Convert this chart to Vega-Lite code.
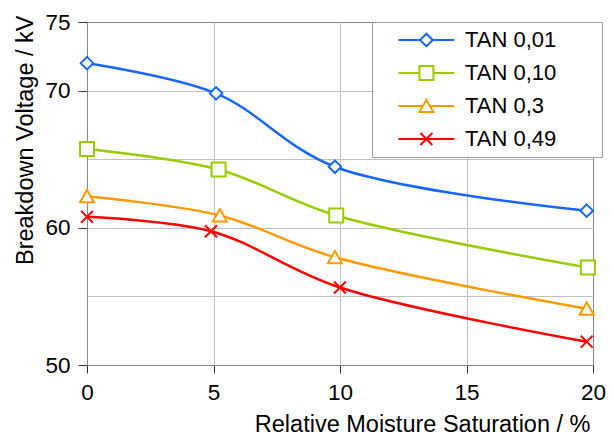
{
  "$schema": "https://vega.github.io/schema/vega-lite/v6.json",
  "width": 506,
  "height": 343,
  "autosize": {"type": "none"},
  "padding": {"left": 87, "top": 22, "right": 20, "bottom": 70},
  "config": {
    "font": "Liberation Sans",
    "view": {"stroke": "#878787", "strokeWidth": 1},
    "legend": {
      "orient": "none",
      "legendX": 285,
      "legendY": 0,
      "padding": 7,
      "rowPadding": 11,
      "labelFontSize": 22,
      "labelFont": "Liberation Sans",
      "labelColor": "black",
      "labelOffset": 64,
      "symbolSize": 196,
      "symbolStrokeWidth": 2,
      "symbolFillColor": "white",
      "symbolOpacity": 1,
      "strokeColor": "#a0a0a0",
      "fillColor": "white"
    }
  },
  "data": {
    "values": [
      {"series": "TAN 0,01", "moisture": 0, "voltage": 72.0},
      {"series": "TAN 0,01", "moisture": 5.1, "voltage": 69.8},
      {"series": "TAN 0,01", "moisture": 9.8, "voltage": 64.45},
      {"series": "TAN 0,01", "moisture": 19.75, "voltage": 61.25},
      {"series": "TAN 0,10", "moisture": 0, "voltage": 65.75},
      {"series": "TAN 0,10", "moisture": 5.2, "voltage": 64.25},
      {"series": "TAN 0,10", "moisture": 9.85, "voltage": 60.9},
      {"series": "TAN 0,10", "moisture": 19.8, "voltage": 57.1},
      {"series": "TAN 0,3", "moisture": 0, "voltage": 62.3},
      {"series": "TAN 0,3", "moisture": 5.25, "voltage": 60.9},
      {"series": "TAN 0,3", "moisture": 9.8, "voltage": 57.85},
      {"series": "TAN 0,3", "moisture": 19.75, "voltage": 54.1},
      {"series": "TAN 0,49", "moisture": 0, "voltage": 60.8},
      {"series": "TAN 0,49", "moisture": 4.9, "voltage": 59.75},
      {"series": "TAN 0,49", "moisture": 10, "voltage": 55.65},
      {"series": "TAN 0,49", "moisture": 19.75, "voltage": 51.7}
    ]
  },
  "encoding": {
    "x": {
      "field": "moisture",
      "type": "quantitative",
      "scale": {"domain": [0, 20], "nice": false},
      "axis": {
        "values": [0, 5, 10, 15, 20],
        "title": "Relative Moisture Saturation / %",
        "grid": true,
        "gridColor": "#c0c0c0",
        "gridOpacity": {"condition": {"test": "datum.value == 0 || datum.value == 20", "value": 0}, "value": 1},
        "domainColor": "#878787",
        "tickColor": "#333333",
        "tickSize": 8,
        "labelFontSize": 22.5,
        "labelPadding": 8,
        "labelColor": "black",
        "labelFlush": false,
        "titleFontSize": 23.5,
        "titleFontWeight": "normal",
        "titleColor": "black",
        "titleAnchor": "end",
        "titleBaseline": "alphabetic",
        "titleX": 503,
        "titleY": 66
      }
    },
    "y": {
      "field": "voltage",
      "type": "quantitative",
      "scale": {"domain": [50, 75], "nice": false, "zero": false},
      "axis": {
        "values": [50, 55, 60, 65, 70, 75],
        "labelExpr": "datum.value == 55 || datum.value == 65 ? '' : datum.label",
        "title": "Breakdown Voltage / kV",
        "grid": true,
        "gridColor": "#c0c0c0",
        "gridOpacity": {"condition": {"test": "datum.value == 50 || datum.value == 75", "value": 0}, "value": 1},
        "tickOpacity": {"condition": {"test": "datum.value == 55 || datum.value == 65", "value": 0}, "value": 1},
        "domainColor": "#878787",
        "tickColor": "#333333",
        "tickSize": 9,
        "labelFontSize": 22.5,
        "labelPadding": 8,
        "labelColor": "black",
        "labelFlush": false,
        "titleFontSize": 23.5,
        "titleFontWeight": "normal",
        "titleColor": "black",
        "titleAnchor": "end",
        "titleBaseline": "alphabetic",
        "titleX": -55,
        "titleY": -7
      }
    },
    "color": {
      "field": "series",
      "type": "nominal",
      "scale": {"domain": ["TAN 0,01", "TAN 0,10", "TAN 0,3", "TAN 0,49"], "range": ["#1766ff", "#99cc00", "#ff9900", "#ff0000"]},
      "legend": {"title": null}
    }
  },
  "layer": [
    {
      "mark": {"type": "line", "interpolate": "catmull-rom", "strokeWidth": 2.5}
    },
    {
      "transform": [{"filter": "datum.series == 'TAN 0,01'"}],
      "mark": {"type": "point", "shape": "M0,-0.9L0.9,0L0,0.9L-0.9,0Z", "filled": false, "fill": "white", "size": 196, "strokeWidth": 2, "opacity": 1}
    },
    {
      "transform": [{"filter": "datum.series == 'TAN 0,10'"}],
      "mark": {"type": "point", "shape": "M-1,-1H1V1H-1Z", "filled": false, "fill": "white", "size": 196, "strokeWidth": 2, "opacity": 1}
    },
    {
      "transform": [{"filter": "datum.series == 'TAN 0,3'"}],
      "mark": {"type": "point", "shape": "M0,-0.9L1,0.85H-1Z", "filled": false, "fill": "white", "size": 196, "strokeWidth": 2, "opacity": 1}
    },
    {
      "transform": [{"filter": "datum.series == 'TAN 0,49'"}],
      "mark": {"type": "point", "shape": "M-0.85,-0.85L0.85,0.85M-0.85,0.85L0.85,-0.85", "filled": false, "fill": "white", "size": 196, "strokeWidth": 2, "opacity": 1}
    },
    {
      "transform": [{"filter": "false"}],
      "mark": {"type": "point", "filled": false, "fill": "white", "size": 196, "strokeWidth": 2, "opacity": 1},
      "encoding": {
        "shape": {
          "field": "series",
          "type": "nominal",
          "scale": {
            "domain": ["TAN 0,01", "TAN 0,10", "TAN 0,3", "TAN 0,49"],
            "range": [
              "M1.2,0H4.3M6.1,0H9.2M5.2,-0.9L6.1,0L5.2,0.9L4.3,0ZM28.6,0",
              "M1.2,0H4.2M6.2,0H9.2M4.2,-1H6.2V1H4.2ZM28.6,0",
              "M1.2,0H4.69M5.71,0H9.2M5.2,-0.9L6.2,0.85H4.2ZM28.6,0",
              "M1.2,0H9.2M4.35,-0.85L6.05,0.85M4.35,0.85L6.05,-0.85M28.6,0"
            ]
          },
          "legend": {"title": null}
        }
      }
    }
  ]
}
